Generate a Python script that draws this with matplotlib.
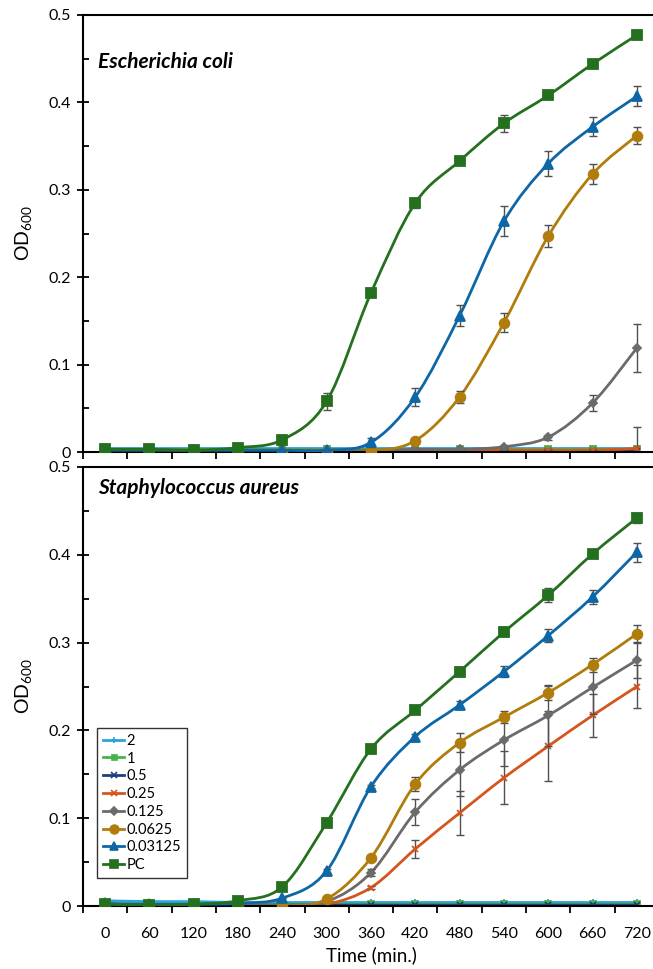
import matplotlib
matplotlib.use("Agg")
import matplotlib.pyplot as plt
from matplotlib.path import Path
from matplotlib.patches import PathPatch
from matplotlib.lines import Line2D

plt.rcParams['font.family'] = ['Lato', 'DejaVu Sans']
plt.rcParams['mathtext.default'] = 'regular'

# sampling times (min.)
time_min = [0, 60, 120, 180, 240, 300, 360, 420, 480, 540, 600, 660, 720]
series_names = ['2', '1', '0.5', '0.25', '0.125', '0.0625', '0.03125', 'PC']

# Escherichia coli
ec_2 = [0.004, 0.004, 0.004, 0.004, 0.004, 0.004, 0.004, 0.004, 0.004, 0.004, 0.004, 0.004, 0.004]
ec_1 = [0.003, 0.003, 0.003, 0.003, 0.003, 0.003, 0.003, 0.003, 0.003, 0.003, 0.003, 0.003, 0.003]
ec_05 = [0.001, 0.001, 0.001, 0.001, 0.001, 0.001, 0.001, 0.001, 0.001, 0.001, 0.001, 0.001, 0.001]
ec_025 = [0.002, 0.002, 0.002, 0.002, 0.002, 0.002, 0.002, 0.002, 0.002, 0.002, 0.002, 0.002, 0.004]
ec_0125 = [0.003, 0.003, 0.002, 0.002, 0.002, 0.002, 0.002, 0.003, 0.003, 0.006, 0.017, 0.056, 0.119]
ec_00625 = [0.001, 0.002, 0.001, 0.001, 0.000, 0.000, 0.001, 0.013, 0.063, 0.148, 0.247, 0.318, 0.362]
ec_003125 = [0.002, 0.002, 0.002, 0.002, 0.002, 0.002, 0.011, 0.063, 0.156, 0.264, 0.330, 0.372, 0.407]
ec_pc = [0.003, 0.003, 0.002, 0.005, 0.014, 0.058, 0.182, 0.285, 0.333, 0.376, 0.408, 0.444, 0.477]

ec_025_err = [0, 0, 0, 0, 0, 0, 0, 0, 0, 0, 0, 0, 0.025]
ec_0125_err = [0, 0, 0, 0, 0, 0, 0, 0, 0, 0.001, 0.003, 0.0095, 0.027]
ec_00625_err = [0, 0, 0, 0, 0, 0, 0, 0.002, 0.007, 0.011, 0.013, 0.011, 0.0095]
ec_003125_err = [0, 0, 0, 0, 0, 0, 0.005, 0.010, 0.012, 0.017, 0.0145, 0.011, 0.0115]
ec_pc_err = [0, 0, 0, 0, 0, 0.010, 0.003, 0.006, 0.004, 0.0095, 0.0046, 0.002, 0.004]

# Staphylococcus aureus
sa_2 = [0.006, 0.005, 0.005, 0.004, 0.004, 0.004, 0.004, 0.004, 0.004, 0.004, 0.004, 0.004, 0.004]
sa_1 = [0.002, 0.002, 0.002, 0.002, 0.002, 0.002, 0.002, 0.002, 0.002, 0.002, 0.002, 0.002, 0.002]
sa_05 = [0.001, 0.001, 0.001, 0.001, 0.001, 0.001, 0.001, 0.001, 0.001, 0.001, 0.001, 0.001, 0.001]
sa_025 = [0.001, 0.001, 0.001, 0.001, 0.001, 0.002, 0.021, 0.065, 0.106, 0.146, 0.182, 0.217, 0.250]
sa_0125 = [0.001, 0.001, 0.001, 0.001, 0.001, 0.005, 0.038, 0.107, 0.155, 0.189, 0.217, 0.249, 0.280]
sa_00625 = [0.001, 0.001, 0.001, 0.000, 0.000, 0.008, 0.055, 0.139, 0.186, 0.215, 0.243, 0.275, 0.310]
sa_003125 = [0.003, 0.002, 0.002, 0.003, 0.009, 0.040, 0.136, 0.193, 0.229, 0.267, 0.308, 0.352, 0.403]
sa_pc = [0.002, 0.001, 0.002, 0.006, 0.022, 0.095, 0.179, 0.223, 0.267, 0.312, 0.354, 0.401, 0.442]

sa_025_err = [0, 0, 0, 0, 0, 0, 0.002, 0.010, 0.025, 0.030, 0.040, 0.025, 0.025]
sa_0125_err = [0, 0, 0, 0, 0, 0, 0.004, 0.015, 0.030, 0.030, 0.035, 0.030, 0.020]
sa_00625_err = [0, 0, 0, 0, 0, 0.002, 0.003, 0.008, 0.011, 0.007, 0.008, 0.008, 0.0095]
sa_003125_err = [0, 0, 0, 0, 0, 0.002, 0.002, 0.003, 0.004, 0.006, 0.007, 0.008, 0.011]
sa_pc_err = [0, 0, 0, 0, 0, 0, 0, 0.003, 0.003, 0.003, 0.008, 0.003, 0.006]

colors = ['#2aa3df', '#46b34b', '#1c3f80', '#d4561c', '#6b6b6b', '#b07c0c', '#0d67a6', '#25701f']
markers = ['+', 's', 'x', 'x', 'D', 'o', '^', 's']
msizes = [5, 4, 5, 5, 4.5, 7, 6.5, 7]


def smooth_path(x, y):
    # excel style smoothed line through the points (bezier segments)
    verts = [(x[0], y[0])]
    codes = [Path.MOVETO]
    n = len(x)
    for i in range(n - 1):
        x0, y0 = (x[i - 1], y[i - 1]) if i > 0 else (x[i], y[i])
        x3, y3 = (x[i + 2], y[i + 2]) if i + 2 < n else (x[i + 1], y[i + 1])
        c1 = (x[i] + (x[i + 1] - x0) / 6, y[i] + (y[i + 1] - y0) / 6)
        c2 = (x[i + 1] - (x3 - x[i]) / 6, y[i + 1] - (y3 - y[i]) / 6)
        verts += [c1, c2, (x[i + 1], y[i + 1])]
        codes += [Path.CURVE4, Path.CURVE4, Path.CURVE4]
    return Path(verts, codes)


def draw_panel(ax, data, errs, title, show_xlabels):
    for k, y in enumerate(data):
        ax.add_patch(PathPatch(smooth_path(time_min, y), fill=False, edgecolor=colors[k],
                               lw=2.0, zorder=2 + k * 0.1, capstyle='round'))
        if errs[k] is not None:
            ax.errorbar(time_min, y, yerr=errs[k], fmt='none', ecolor='#505050', elinewidth=1.0,
                        capsize=3, capthick=1.0, zorder=2.05 + k * 0.1)
        ax.plot(time_min, y, linestyle='none', marker=markers[k], ms=msizes[k], color=colors[k],
                mec=colors[k], mew=1.3, zorder=2.08 + k * 0.1)

    ax.set_xlim(-30, 750)
    ax.set_ylim(0, 0.5)
    ax.set_xticks([-30 + 60 * i for i in range(14)])
    ax.set_xticklabels([])
    ax.set_xticks(time_min, minor=True)
    if show_xlabels:
        ax.set_xticklabels([str(t) for t in time_min], minor=True)
    ax.tick_params(axis='x', which='major', direction='out', length=5, width=1.3)
    ax.tick_params(axis='x', which='minor', length=0, labelsize=11.5, pad=15)
    ax.set_yticks([0, 0.1, 0.2, 0.3, 0.4, 0.5])
    ax.set_yticklabels(['0', '0.1', '0.2', '0.3', '0.4', '0.5'])
    ax.set_yticks([0.05, 0.15, 0.25, 0.35, 0.45], minor=True)
    ax.tick_params(axis='y', which='major', direction='inout', length=9, width=1.3, labelsize=11.5, pad=4)
    ax.tick_params(axis='y', which='minor', direction='in', length=4, width=1.3)
    ax.spines['right'].set_visible(False)
    for s in ['left', 'bottom', 'top']:
        ax.spines[s].set_linewidth(1.5)
    ax.set_ylabel('OD$_{600}$', fontsize=14)
    ax.yaxis.set_label_coords(-0.085, 0.5)
    ax.text(0.026, title[1], title[0], transform=ax.transAxes, fontsize=15,
            fontweight='bold', fontstyle='italic', va='center', ha='left')


fig = plt.figure(figsize=(6.53, 9.69), dpi=100)
ax1 = fig.add_axes([83 / 653, 1 - 452 / 969, 576 / 653, 437 / 969])
ax2 = fig.add_axes([83 / 653, 1 - 906 / 969, 576 / 653, 439 / 969])

ec_data = [ec_2, ec_1, ec_05, ec_025, ec_0125, ec_00625, ec_003125, ec_pc]
ec_errs = [None, None, None, ec_025_err, ec_0125_err, ec_00625_err, ec_003125_err, ec_pc_err]
sa_data = [sa_2, sa_1, sa_05, sa_025, sa_0125, sa_00625, sa_003125, sa_pc]
sa_errs = [None, None, None, sa_025_err, sa_0125_err, sa_00625_err, sa_003125_err, sa_pc_err]

draw_panel(ax1, ec_data, ec_errs, ('Escherichia coli', 0.893), False)
draw_panel(ax2, sa_data, sa_errs, ('Staphylococcus aureus', 0.952), True)
ax2.set_xlabel('Time (min.)', fontsize=13.5, labelpad=4)

handles = [Line2D([], [], color=colors[k], lw=2.0, marker=markers[k], ms=msizes[k] * 0.9,
                  mec=colors[k], mew=1.2) for k in range(len(series_names))]

# legend box in the reference is about 90 x 150 px; fit spacing to that
leg_fs = 10.5
fs_px = leg_fs * 100 / 72
spacing, hlen = 0.3, 1.8
for _ in range(4):
    leg = ax2.legend(handles, series_names, loc='lower left', bbox_to_anchor=(0.0243, 0.0638),
                     borderaxespad=0, fontsize=leg_fs, frameon=True, fancybox=False,
                     edgecolor='black', handlelength=hlen, handletextpad=0.15,
                     labelspacing=spacing, borderpad=0.4)
    fig.canvas.draw()
    bb = leg.get_window_extent()
    spacing = max(0.0, spacing + (150 - bb.height) / (7 * fs_px))
    hlen = max(1.0, hlen + (90 - bb.width) / fs_px)
leg.get_frame().set_linewidth(1.0)

fig.savefig('out.png', dpi=100)
